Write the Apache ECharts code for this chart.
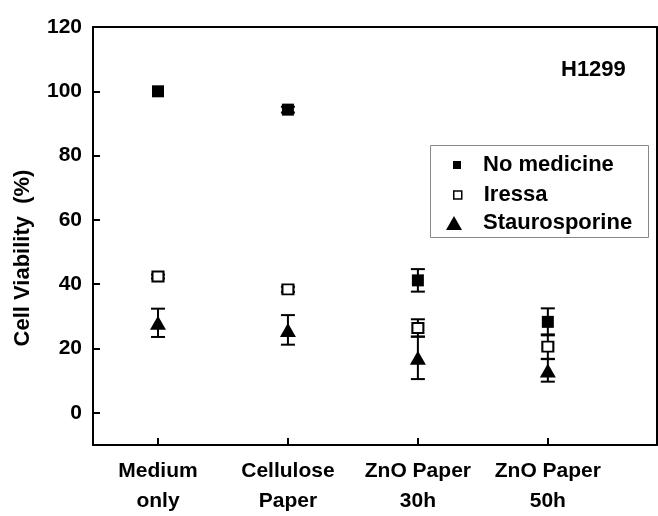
<!DOCTYPE html>
<html>
<head>
<meta charset="utf-8">
<script src="https://cdn.jsdelivr.net/npm/echarts@6/dist/echarts.min.js"></script>
<style>html,body{margin:0;padding:0;background:#fff;}#c{width:658px;height:516px;}</style>
</head>
<body>
<div id="c"></div>
<script>
const categories = ['Medium\nonly', 'Cellulose\nPaper', 'ZnO Paper\n30h', 'ZnO Paper\n50h'];
const categoryPos = [1, 2, 3, 4];
const yTicks = [0, 20, 40, 60, 80, 100, 120];
const noMedicine = [100, 94.3, 41.2, 28.3];
const noMedicineErr = [0, 0.9, 3.5, 4.2];
const iressa = [42.4, 38.4, 26.4, 20.6];
const iressaErr = [0.6, 0.8, 2.7, 3.8];
const stauro = [28.0, 25.8, 17.1, 13.2];
const stauroErr = [4.4, 4.6, 6.6, 3.5];

const FONT = "'Liberation Sans', Arial, sans-serif";

function pts(vals) { return vals.map((v, i) => [categoryPos[i], v]); }
function errs(vals, e) { return vals.map((v, i) => [categoryPos[i], v - e[i], v + e[i]]); }

function errRender(params, api) {
  const x = api.value(0);
  if (api.value(1) === api.value(2)) return null;
  const lo = api.coord([x, api.value(1)]);
  const hi = api.coord([x, api.value(2)]);
  const hw = 7;
  const st = { stroke: '#000', lineWidth: 2 };
  return {
    type: 'group',
    children: [
      { type: 'line', shape: { x1: lo[0], y1: lo[1], x2: hi[0], y2: hi[1] }, style: st },
      { type: 'line', shape: { x1: lo[0] - hw, y1: lo[1], x2: lo[0] + hw, y2: lo[1] }, style: st },
      { type: 'line', shape: { x1: hi[0] - hw, y1: hi[1], x2: hi[0] + hw, y2: hi[1] }, style: st }
    ]
  };
}

const legendText = { fontFamily: FONT, fontWeight: 'bold', fontSize: 22, color: '#000', lineHeight: 22 };

const chart = echarts.init(document.getElementById('c'), null, { renderer: 'canvas' });
chart.setOption({
  animation: false,
  backgroundColor: '#fff',
  grid: { left: 93, right: 1, top: 27, bottom: 67 },
  title: {
    text: 'H1299', left: 561, top: 59, padding: 0,
    textStyle: { fontFamily: FONT, fontWeight: 'bold', fontSize: 22, color: '#000' }
  },
  graphic: [
    { type: 'rect', shape: { x: 430.5, y: 145.5, width: 218, height: 92 },
      style: { fill: null, stroke: '#888', lineWidth: 1 }, z: 10 },
    { type: 'text', x: 23, y: 258, rotation: Math.PI / 2,
      style: { text: 'Cell Viability  (%)', fontFamily: FONT, fontWeight: 'bold', fontSize: 22,
               fill: '#000', align: 'center', verticalAlign: 'middle' } }
  ],
  legend: [{
    left: 453, top: 154, padding: 0, data: ['No medicine'],
    itemWidth: 8, itemHeight: 8,
    textStyle: Object.assign({ padding: [0, 0, 0, 17] }, legendText)
  }, {
    left: 453, top: 184, padding: 0, data: ['Iressa'],
    itemWidth: 8, itemHeight: 8, itemStyle: { borderWidth: 1.5 },
    textStyle: Object.assign({ padding: [0, 0, 0, 17] }, legendText)
  }, {
    left: 446, top: 212, padding: 0, data: ['Staurosporine'],
    itemWidth: 16, itemHeight: 14,
    textStyle: Object.assign({ padding: [0, 0, 0, 16] }, legendText)
  }],
  xAxis: [{
    type: 'value', min: 0.5, max: 4.84,
    axisLine: { onZero: false, lineStyle: { color: '#000', width: 2 } },
    axisTick: { inside: true, length: 7, lineStyle: { color: '#000', width: 2 }, customValues: categoryPos },
    axisLabel: {
      customValues: categoryPos, margin: 11,
      formatter: v => categories[Math.round(v) - 1] || '',
      fontFamily: FONT, fontWeight: 'bold', fontSize: 21, color: '#000', lineHeight: 30
    },
    splitLine: { show: false }
  }, {
    type: 'value', position: 'top', min: 0.5, max: 4.84,
    axisLine: { show: true, onZero: false, lineStyle: { color: '#000', width: 2 } },
    axisTick: { show: false }, axisLabel: { show: false }, splitLine: { show: false }
  }],
  yAxis: [{
    type: 'value', min: -10, max: 120,
    axisLine: { show: true, onZero: false, lineStyle: { color: '#000', width: 2 } },
    axisTick: { inside: true, length: 7, lineStyle: { color: '#000', width: 2 }, customValues: yTicks },
    axisLabel: {
      customValues: yTicks, margin: 11,
      fontFamily: FONT, fontWeight: 'bold', fontSize: 21, color: '#000'
    },
    splitLine: { show: false }
  }, {
    type: 'value', position: 'right', min: -10, max: 120,
    axisLine: { show: true, onZero: false, lineStyle: { color: '#000', width: 2 } },
    axisTick: { show: false }, axisLabel: { show: false }, splitLine: { show: false }
  }],
  series: [
    { type: 'custom', name: 'errNM', renderItem: errRender, data: errs(noMedicine, noMedicineErr), encode: { x: 0, y: [1, 2] }, z: 1 },
    { type: 'custom', name: 'errIR', renderItem: errRender, data: errs(iressa, iressaErr), encode: { x: 0, y: [1, 2] }, z: 1 },
    { type: 'custom', name: 'errST', renderItem: errRender, data: errs(stauro, stauroErr), encode: { x: 0, y: [1, 2] }, z: 1 },
    { type: 'scatter', name: 'No medicine', data: pts(noMedicine), symbol: 'rect', symbolSize: 12,
      itemStyle: { color: '#000', opacity: 1 }, z: 3 },
    { type: 'scatter', name: 'Iressa', data: pts(iressa), symbol: 'rect', symbolSize: [11, 10],
      itemStyle: { color: '#fff', borderColor: '#000', borderWidth: 2, opacity: 1 }, z: 3 },
    { type: 'scatter', name: 'Staurosporine', data: pts(stauro), symbol: 'triangle', symbolSize: [16, 14],
      itemStyle: { color: '#000', opacity: 1 }, z: 3 }
  ]
});
</script>
</body>
</html>
